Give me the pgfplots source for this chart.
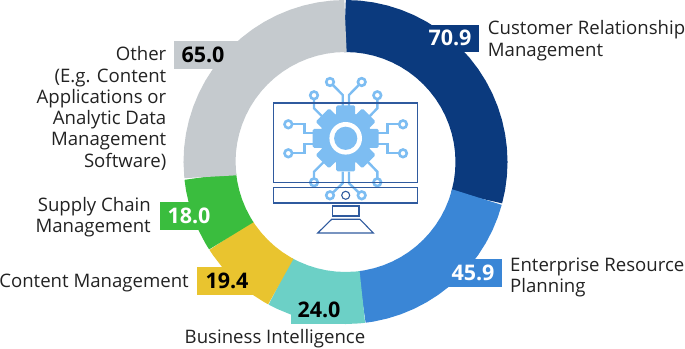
\documentclass[border=0pt]{standalone}
\usepackage{fontspec}
\setmainfont{Open Sans}
\usepackage{pgfplots}
\pgfplotsset{compat=1.18}
\definecolor{navy}{HTML}{0B3A7E}
\definecolor{cblue}{HTML}{3A86D6}
\definecolor{cteal}{HTML}{6CD0C6}
\definecolor{cyellow}{HTML}{E9C42F}
\definecolor{cgreen}{HTML}{3ABD3E}
\definecolor{cgrey}{HTML}{C5CACE}
\definecolor{ilight}{HTML}{7DBDF2}
\definecolor{iline}{HTML}{2F5A9E}
\definecolor{txt}{HTML}{222222}
\newcommand{\lab}[4]{\node[anchor=#1,inner sep=0pt,text=txt,font=\fontsize{18.6}{21}\selectfont,yshift=-5pt] at (#2,#3) {#4};}
\newcommand{\valnum}[4]{\node[anchor=mid,inner sep=0pt,text=#4,font=\fontsize{21.5}{24}\bfseries\selectfont,yshift=-5.5pt] at (#1,#2) {#3};}
\begin{document}
\begin{tikzpicture}
\useasboundingbox (0,0) rectangle (685pt,348pt);
\begin{axis}[
  at={(0,0)},anchor=south west,
  scale only axis,width=685pt,height=348pt,
  xmin=-345.5,xmax=339.5,ymin=-186,ymax=162,
  hide axis,clip=false,
]
\addplot[navy,line width=52pt,no markers,data cs=polar] coordinates {(90.3,136)(85,136)(80,136)(75,136)(70,136)(65,136)(60,136)(55,136)(50,136)(45,136)(40,136)(35,136)(30,136)(25,136)(20,136)(15,136)(10,136)(5,136)(0,136)(-5,136)(-10,136)(-15.2,136)};
\addplot[cblue,line width=52pt,no markers,data cs=polar] coordinates {(-14.95,136)(-20,136)(-25,136)(-30,136)(-35,136)(-40,136)(-45,136)(-50,136)(-55,136)(-60,136)(-65,136)(-70,136)(-75,136)(-80,136)(-83.1,136)};
\addplot[cteal,line width=52pt,no markers,data cs=polar] coordinates {(-82.89,136)(-85,136)(-90,136)(-95,136)(-100,136)(-105,136)(-110,136)(-115,136)(-118.6,136)};
\addplot[cyellow,line width=52pt,no markers,data cs=polar] coordinates {(-118.42,136)(-120,136)(-125,136)(-130,136)(-135,136)(-140,136)(-145,136)(-147.3,136)};
\addplot[cgreen,line width=52pt,no markers,data cs=polar] coordinates {(-147.13,136)(-150,136)(-155,136)(-160,136)(-165,136)(-170,136)(-174,136)};
\addplot[cgrey,line width=52pt,no markers,data cs=polar] coordinates {(-173.77,136)(-180,136)(-185,136)(-190,136)(-195,136)(-200,136)(-205,136)(-210,136)(-215,136)(-220,136)(-225,136)(-230,136)(-235,136)(-240,136)(-245,136)(-250,136)(-255,136)(-260,136)(-265,136)(-270,136)};
\end{axis}
\begin{scope}[x=1pt,y=-1pt,yshift=348pt]
% value boxes
\fill[navy] (430,25) rectangle (478.7,52.3);
\fill[cblue] (448,259.3) rectangle (502.3,287.3);
\fill[cteal] (291,296) rectangle (345,324);
\fill[cyellow] (197,266.7) rectangle (253,294.7);
\fill[cgreen] (160,202.3) rectangle (205,230);
\fill[cgrey] (174.3,41) rectangle (238,69);
\valnum{450}{37}{70.9}{white}
\valnum{473}{272}{45.9}{white}
\valnum{319}{309}{24.0}{black}
\valnum{227}{280}{19.4}{black}
\valnum{189}{215}{18.0}{white}
\valnum{203}{54}{65.0}{black}
% labels
\lab{mid west}{487.7}{27}{Customer Relationship}
\lab{mid west}{487.7}{49}{Management}
\lab{mid west}{510}{264}{Enterprise Resource}
\lab{mid west}{510}{285}{Planning}
\lab{mid}{275}{336}{Business Intelligence}
\lab{mid east}{189}{280}{Content Management}
\lab{mid east}{151}{204}{Supply Chain}
\lab{mid east}{151}{225}{Management}
\lab{mid east}{166.5}{53}{Other}
\lab{mid east}{166.5}{75}{(E.g. Content}
\lab{mid east}{166.5}{96}{Applications or}
\lab{mid east}{166.5}{117}{Analytic Data}
\lab{mid east}{166.5}{138}{Management}
\lab{mid east}{166.5}{160}{Software)}
% icon: circuit
\begin{scope}[ilight,line width=2.4pt]
\draw (330,82) -- (342.7,95) -- (342.7,108);
\draw (361.7,82) -- (349,95) -- (349,108);
\draw (314,95.3) -- (314,108.3) -- (325,119.3);
\draw (377.3,95.3) -- (377.3,108.3) -- (366.7,119.3);
\draw (288.3,124.3) -- (304.3,124.3) -- (304.3,133.3) -- (313.3,133.3);
\draw (288.3,153.3) -- (304.3,153.3) -- (304.3,144) -- (313.3,144);
\draw (403,124.3) -- (387.3,124.3) -- (387.3,133.3) -- (378.3,133.3);
\draw (403,153.3) -- (387.3,153.3) -- (387.3,144) -- (378.3,144);
\draw (314,182.3) -- (314,171.7) -- (325,160.7);
\draw (377.3,182.3) -- (377.3,171.7) -- (366.7,160.7);
\draw (330,195.3) -- (342.7,183.3) -- (342.7,171.7);
\draw (361.7,195.3) -- (349,183.3) -- (349,171.7);
\foreach \p in {(330,82),(361.7,82),(314,95.3),(377.3,95.3),(288.3,124.3),(288.3,153.3),(403,124.3),(403,153.3),(314,182.3),(377.3,182.3),(330,195.3),(361.7,195.3)}
  \draw[line width=2.6pt,fill=white] \p circle (3.8);
\end{scope}
% gear
\begin{scope}[shift={(345.7,138.3)}]
\fill[ilight] (0,0) circle (26);
\foreach \a in {0,45,...,315}
  \fill[ilight,rotate=\a,rounded corners=1.5pt] (-9.5,-20) rectangle (9.5,-33);
\fill[white] (0,0) circle (16.3);
\fill[ilight] (0,0) circle (11.6);
\end{scope}
% monitor
\begin{scope}[iline,line width=1.1pt]
\draw (273.3,103) rectangle (417.7,182.3);
\draw (273.3,187.3) rectangle (417.7,203);
\draw (345.7,195.3) circle (4);
\draw (332.7,206) rectangle (359,216);
\draw (331.7,219.3) -- (360,219.3) -- (373.3,233) -- (317.7,233) -- cycle;
\end{scope}
\end{scope}
\end{tikzpicture}
\end{document}
